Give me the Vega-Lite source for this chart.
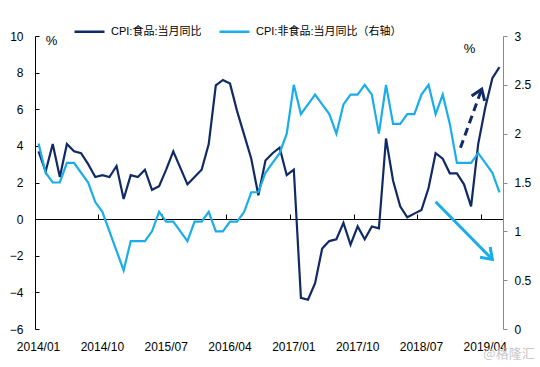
{
  "$schema": "https://vega.github.io/schema/vega-lite/v6.json",
  "width": 468,
  "height": 293,
  "autosize": {"type": "none"},
  "padding": {"left": 35, "top": 36, "right": 37, "bottom": 38},
  "background": "white",
  "config": {"view": {"stroke": null}, "font": "Liberation Sans, Noto Sans CJK SC"},
  "title": {"text": "@格隆汇", "orient": "bottom", "anchor": "end", "color": "#c8c8c8", "fontSize": 13, "fontWeight": "normal", "offset": -4, "dx": 4, "font": "Noto Sans CJK SC"},
  "datasets": {
    "cpi": [
      {"month": "2014/01", "food": 3.7, "nonfood": 1.9},
      {"month": "2014/02", "food": 2.6, "nonfood": 1.6},
      {"month": "2014/03", "food": 4.1, "nonfood": 1.5},
      {"month": "2014/04", "food": 2.3, "nonfood": 1.5},
      {"month": "2014/05", "food": 4.1, "nonfood": 1.7},
      {"month": "2014/06", "food": 3.7, "nonfood": 1.7},
      {"month": "2014/07", "food": 3.6, "nonfood": 1.6},
      {"month": "2014/08", "food": 3.0, "nonfood": 1.5},
      {"month": "2014/09", "food": 2.3, "nonfood": 1.3},
      {"month": "2014/10", "food": 2.4, "nonfood": 1.2},
      {"month": "2014/11", "food": 2.3, "nonfood": 1.0},
      {"month": "2014/12", "food": 2.9, "nonfood": 0.8},
      {"month": "2015/01", "food": 1.1, "nonfood": 0.6},
      {"month": "2015/02", "food": 2.4, "nonfood": 0.9},
      {"month": "2015/03", "food": 2.3, "nonfood": 0.9},
      {"month": "2015/04", "food": 2.7, "nonfood": 0.9},
      {"month": "2015/05", "food": 1.6, "nonfood": 1.0},
      {"month": "2015/06", "food": 1.8, "nonfood": 1.2},
      {"month": "2015/07", "food": 2.7, "nonfood": 1.1},
      {"month": "2015/08", "food": 3.7, "nonfood": 1.1},
      {"month": "2015/09", "food": 2.8, "nonfood": 1.0},
      {"month": "2015/10", "food": 1.9, "nonfood": 0.9},
      {"month": "2015/11", "food": 2.3, "nonfood": 1.1},
      {"month": "2015/12", "food": 2.7, "nonfood": 1.1},
      {"month": "2016/01", "food": 4.1, "nonfood": 1.2},
      {"month": "2016/02", "food": 7.3, "nonfood": 1.0},
      {"month": "2016/03", "food": 7.6, "nonfood": 1.0},
      {"month": "2016/04", "food": 7.4, "nonfood": 1.1},
      {"month": "2016/05", "food": 5.9, "nonfood": 1.1},
      {"month": "2016/06", "food": 4.6, "nonfood": 1.2},
      {"month": "2016/07", "food": 3.3, "nonfood": 1.4},
      {"month": "2016/08", "food": 1.3, "nonfood": 1.4},
      {"month": "2016/09", "food": 3.2, "nonfood": 1.6},
      {"month": "2016/10", "food": 3.6, "nonfood": 1.7},
      {"month": "2016/11", "food": 3.9, "nonfood": 1.8},
      {"month": "2016/12", "food": 2.4, "nonfood": 2.0},
      {"month": "2017/01", "food": 2.7, "nonfood": 2.5},
      {"month": "2017/02", "food": -4.3, "nonfood": 2.2},
      {"month": "2017/03", "food": -4.4, "nonfood": 2.3},
      {"month": "2017/04", "food": -3.5, "nonfood": 2.4},
      {"month": "2017/05", "food": -1.6, "nonfood": 2.3},
      {"month": "2017/06", "food": -1.2, "nonfood": 2.2},
      {"month": "2017/07", "food": -1.1, "nonfood": 2.0},
      {"month": "2017/08", "food": -0.2, "nonfood": 2.3},
      {"month": "2017/09", "food": -1.4, "nonfood": 2.4},
      {"month": "2017/10", "food": -0.4, "nonfood": 2.4},
      {"month": "2017/11", "food": -1.1, "nonfood": 2.5},
      {"month": "2017/12", "food": -0.4, "nonfood": 2.4},
      {"month": "2018/01", "food": -0.5, "nonfood": 2.0},
      {"month": "2018/02", "food": 4.4, "nonfood": 2.5},
      {"month": "2018/03", "food": 2.1, "nonfood": 2.1},
      {"month": "2018/04", "food": 0.7, "nonfood": 2.1},
      {"month": "2018/05", "food": 0.1, "nonfood": 2.2},
      {"month": "2018/06", "food": 0.3, "nonfood": 2.2},
      {"month": "2018/07", "food": 0.5, "nonfood": 2.4},
      {"month": "2018/08", "food": 1.7, "nonfood": 2.5},
      {"month": "2018/09", "food": 3.6, "nonfood": 2.2},
      {"month": "2018/10", "food": 3.3, "nonfood": 2.4},
      {"month": "2018/11", "food": 2.5, "nonfood": 2.1},
      {"month": "2018/12", "food": 2.5, "nonfood": 1.7},
      {"month": "2019/01", "food": 1.9, "nonfood": 1.7},
      {"month": "2019/02", "food": 0.7, "nonfood": 1.7},
      {"month": "2019/03", "food": 4.1, "nonfood": 1.8},
      {"month": "2019/04", "food": 6.1, "nonfood": 1.7},
      {"month": "2019/05", "food": 7.7, "nonfood": 1.6},
      {"month": "2019/06", "food": 8.3, "nonfood": 1.4}
    ],
    "darrow": [
      {"month": "2019/01", "v": 3.9},
      {"month": "2019/04", "v": 7.1}
    ],
    "larrow": [
      {"month": "2018/09", "v": 0.95},
      {"month": "2019/05", "v": -2.2}
    ]
  },
  "layer": [
    {
      "data": {"name": "cpi"},
      "mark": {"type": "line", "strokeWidth": 2.2},
      "encoding": {
        "x": {
          "field": "month", "type": "ordinal", "sort": null, "bandPosition": 0.5,
          "scale": {"type": "band", "paddingInner": 0, "paddingOuter": 0},
          "axis": {
            "values": ["2014/01", "2014/10", "2015/07", "2016/04", "2017/01", "2017/10", "2018/07", "2019/04"],
            "orient": "bottom", "domain": false, "ticks": false, "grid": false,
            "labelFontSize": 12, "labelColor": "#000", "labelAngle": 0, "labelPadding": 12,
            "labelFont": "Liberation Sans", "title": null, "bandPosition": 0.5
          }
        },
        "y": {
          "field": "food", "type": "quantitative",
          "scale": {"domain": [-6, 10], "nice": false, "zero": false},
          "axis": {
            "orient": "left", "values": [-6, -4, -2, 0, 2, 4, 6, 8, 10],
            "domainColor": "#000", "tickColor": "#000", "tickSize": -4, "grid": false,
            "labelFontSize": 12, "labelColor": "#000", "labelPadding": 16, "labelFont": "Liberation Sans",
            "title": "%", "titleAngle": 0, "titleX": 16, "titleY": 4, "titleAlign": "center",
            "titleBaseline": "middle", "titleFontSize": 13, "titleFontWeight": "normal", "titleColor": "#000",
            "titleFont": "Liberation Sans"
          }
        },
        "color": {
          "datum": "CPI:食品:当月同比", "type": "nominal",
          "scale": {"domain": ["CPI:食品:当月同比", "CPI:非食品:当月同比（右轴）"], "range": ["#0f2a66", "#19adea"]},
          "legend": {
            "orient": "none", "legendX": 38, "legendY": -21, "direction": "horizontal", "title": null,
            "symbolType": "stroke", "symbolSize": 900, "symbolStrokeWidth": 2.5,
            "labelFontSize": 11, "labelFont": "Liberation Sans, Noto Sans CJK SC", "labelColor": "#000",
            "labelOffset": 5, "columnPadding": 12, "padding": 0, "labelLimit": 300
          }
        }
      }
    },
    {
      "data": {"name": "cpi"},
      "mark": {"type": "line", "strokeWidth": 2.2},
      "encoding": {
        "x": {
          "field": "month", "type": "ordinal", "sort": null, "bandPosition": 0.5,
          "axis": {
            "values": ["2014/01", "2014/10", "2015/07", "2016/04", "2017/01", "2017/10", "2018/07", "2019/04"],
            "orient": "bottom", "offset": -110, "labels": false, "domainColor": "#000", "domainWidth": 1,
            "ticks": true, "tickColor": "#000", "tickSize": -5, "bandPosition": 0, "grid": false, "title": null
          }
        },
        "y": {
          "field": "nonfood", "type": "quantitative",
          "scale": {"domain": [0, 3], "nice": false, "zero": false},
          "axis": {
            "orient": "right", "values": [0, 0.5, 1, 1.5, 2, 2.5, 3], "format": ".1~f",
            "domainColor": "#898989", "tickColor": "#898989", "tickSize": 4, "grid": false,
            "labelFontSize": 12, "labelColor": "#000", "labelPadding": 7, "labelFont": "Liberation Sans",
            "title": "%", "titleAngle": 0, "titleX": -34, "titleY": 12, "titleAlign": "center",
            "titleBaseline": "middle", "titleFontSize": 13, "titleFontWeight": "normal", "titleColor": "#000",
            "titleFont": "Liberation Sans"
          }
        },
        "color": {"datum": "CPI:非食品:当月同比（右轴）", "type": "nominal"}
      }
    },
    {
      "data": {"name": "darrow"},
      "mark": {"type": "line", "strokeWidth": 3, "strokeDash": [8, 5], "color": "#0f2a66"},
      "encoding": {
        "x": {"field": "month", "type": "ordinal", "sort": null, "bandPosition": 0, "axis": null},
        "y": {"field": "v", "type": "quantitative", "scale": {"domain": [-6, 10], "nice": false, "zero": false}, "axis": null}
      }
    },
    {
      "data": {"name": "darrow"},
      "transform": [{"filter": "datum.month == '2019/04'"}],
      "mark": {"type": "point", "shape": "M-0.7,1L0,0L0.7,1", "filled": false, "strokeWidth": 3, "size": 400, "angle": 21, "color": "#0f2a66", "opacity": 1},
      "encoding": {
        "x": {"field": "month", "type": "ordinal", "sort": null, "bandPosition": 0, "axis": null},
        "y": {"field": "v", "type": "quantitative", "scale": {"domain": [-6, 10], "nice": false, "zero": false}, "axis": null}
      }
    },
    {
      "data": {"name": "larrow"},
      "mark": {"type": "line", "strokeWidth": 3, "color": "#19adea"},
      "encoding": {
        "x": {"field": "month", "type": "ordinal", "sort": null, "bandPosition": 0.5, "axis": null},
        "y": {"field": "v", "type": "quantitative", "scale": {"domain": [-6, 10], "nice": false, "zero": false}, "axis": null}
      }
    },
    {
      "data": {"name": "larrow"},
      "transform": [{"filter": "datum.month == '2019/05'"}],
      "mark": {"type": "point", "shape": "M-0.7,1L0,0L0.7,1", "filled": false, "strokeWidth": 3, "size": 420, "angle": 135, "color": "#19adea", "opacity": 1},
      "encoding": {
        "x": {"field": "month", "type": "ordinal", "sort": null, "bandPosition": 0.5, "axis": null},
        "y": {"field": "v", "type": "quantitative", "scale": {"domain": [-6, 10], "nice": false, "zero": false}, "axis": null}
      }
    }
  ],
  "resolve": {"scale": {"y": "independent"}, "axis": {"x": "independent", "y": "independent"}}
}
